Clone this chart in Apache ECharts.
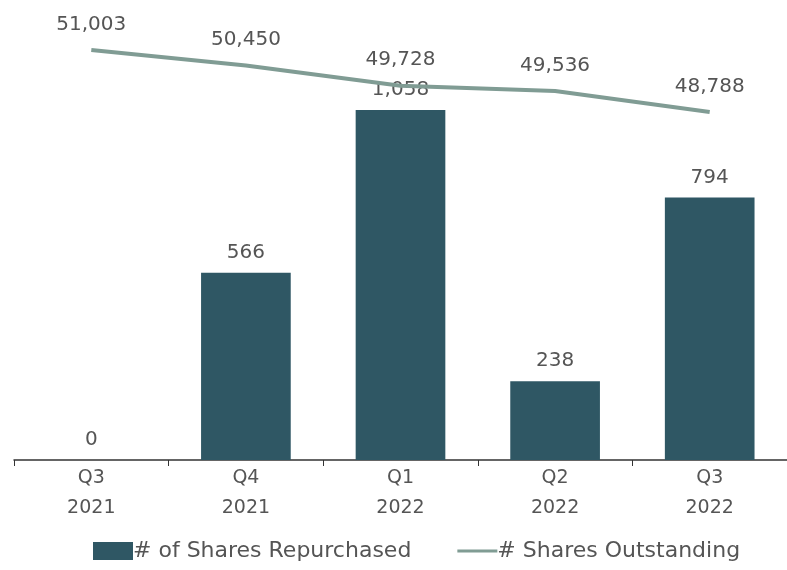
<!DOCTYPE html>
<html>
<head>
<meta charset="utf-8">
<script src="https://cdn.jsdelivr.net/npm/echarts@6/dist/echarts.min.js"></script>
<style>
  html, body { margin: 0; padding: 0; background: #fff; }
  #chart { width: 787px; height: 570px; }
</style>
</head>
<body>
<div id="chart"></div>
<script>
const categories = ['Q3\n2021', 'Q4\n2021', 'Q1\n2022', 'Q2\n2022', 'Q3\n2022']
const repurchased = [0, 566, 1058, 238, 794]
const outstanding = [51003, 50450, 49728, 49536, 48788]

const fontFamily = '"DejaVu Sans", Lato, sans-serif'
const textColor = '#555555'
const barColor = '#2f5764'
const lineColor = '#809c94'

const fmt = v => v.toLocaleString('en-US')

const chart = echarts.init(document.getElementById('chart'))

chart.setOption({
  animation: false,
  textStyle: { fontFamily },
  grid: { left: 14, right: -7, top: 40, bottom: 110, containLabel: false },
  legend: {
    bottom: 3,
    left: 88,
    itemGap: 46,
    itemWidth: 40,
    itemHeight: 18,
    textStyle: { fontSize: 22, color: textColor, fontFamily, padding: [0, 0, 0, -5] },
    data: [
      { name: '# of Shares Repurchased', icon: 'rect' },
      {
        name: '# Shares Outstanding',
        icon: 'path://M0,0 M40,18 M0,7.5 L40,7.5 L40,10.5 L0,10.5 Z',
        itemStyle: { color: lineColor, opacity: 1 }
      }
    ]
  },
  xAxis: {
    type: 'category',
    data: categories,
    axisLine: { lineStyle: { color: '#333', width: 1.5 } },
    axisTick: { show: true, length: 6, lineStyle: { color: '#333' } },
    axisLabel: { fontSize: 19, color: textColor, lineHeight: 30, margin: 3 }
  },
  yAxis: [
    { type: 'value', min: 0, max: 1270, show: false, splitLine: { show: false } },
    { type: 'value', min: 36355, max: 51360, show: false, splitLine: { show: false } }
  ],
  series: [
    {
      name: '# of Shares Repurchased',
      type: 'bar',
      yAxisIndex: 0,
      barWidth: '58%',
      itemStyle: { color: barColor },
      label: {
        show: true,
        position: 'top',
        distance: 10,
        fontSize: 20,
        color: textColor,
        formatter: p => fmt(p.value)
      },
      data: repurchased
    },
    {
      name: '# Shares Outstanding',
      type: 'line',
      yAxisIndex: 1,
      symbol: 'circle',
      symbolSize: 1,
      showSymbol: true,
      lineStyle: { color: lineColor, width: 4 },
      itemStyle: { color: 'rgba(0,0,0,0)' },
      label: {
        show: true,
        position: 'top',
        distance: 15,
        fontSize: 20,
        color: textColor,
        formatter: p => fmt(p.value)
      },
      data: outstanding
    }
  ]
})
</script>
</body>
</html>
